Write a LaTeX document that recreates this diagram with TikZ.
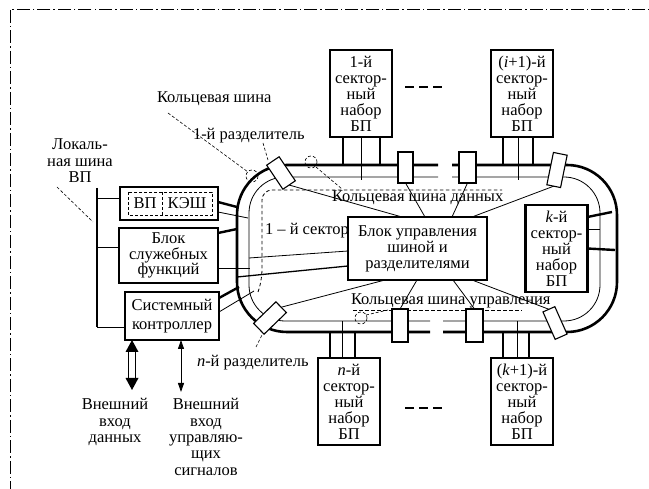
\documentclass[tikz,border=0pt]{standalone}
\usepackage{fontspec}
\setmainfont{Liberation Serif}
\usetikzlibrary{arrows.meta,calc}
\begin{document}
\begin{tikzpicture}[x=1pt,y=-1pt,
 every node/.style={inner sep=0pt, outer sep=0pt, font=\fontsize{16.5}{16}\selectfont},
 sector/.style={draw, line width=2.3pt, minimum width=62pt, minimum height=87pt, align=center},
 lbox/.style={draw, line width=1.8pt, align=center},
 splitter/.style={draw, line width=1.1pt, fill=white, rectangle},
 thickbus/.style={line width=2.6pt},
 thinbus/.style={line width=0.8pt},
 stub/.style={line width=2.4pt},
 leader/.style={line width=0.6pt, dash pattern=on 3pt off 2pt},
 frame/.style={line width=1pt, dash pattern=on 13pt off 3pt on 1.5pt off 3pt},
 sdash/.style={line width=2pt, dash pattern=on 9pt off 5pt},
 ctl/.style={line width=0.8pt},
 busdash/.style={line width=0.8pt, dash pattern=on 3.5pt off 2.5pt},
]
\useasboundingbox (0,0) rectangle (649,489);
\clip (0,0) rectangle (649,489);
\draw[frame] (10,10) rectangle (700,560);

% ring
\draw[thickbus, rounded corners=50pt] (438,165) -- (237,165) -- (237,332) -- (430,332);
\draw[thickbus, rounded corners=50pt] (452,165) -- (617,165) -- (617,332) -- (443,332);
\draw[thinbus, rounded corners=36pt] (438,177) -- (249,177) -- (249,321) -- (430,321);
\draw[thinbus, rounded corners=36pt] (452,177) -- (600,177) -- (600,321) -- (443,321);

% dashed inner buses
\draw[busdash, rounded corners=10pt] (258,292) -- (262,280) -- (262,190) -- (502,190);
\draw[busdash] (353,310) -- (522,310);

% sector boxes
\node[sector] (P1) at (361,93.5) {1-й\\сектор-\\ный\\набор\\БП};
\node[sector] (Pi) at (522,93.5) {(\textit{i}+1)-й\\сектор-\\ный\\набор\\БП};
\node[sector] (Pk) at (556.5,248.5) {\textit{k}-й\\сектор-\\ный\\набор\\БП};
\node[sector] (Pn) at (349,401.5) {\textit{n}-й\\сектор-\\ный\\набор\\БП};
\node[sector] (Pk1) at (522,401.5) {(\textit{k}+1)-й\\сектор-\\ный\\набор\\БП};

\coordinate (dd1a) at (405,87); \coordinate (dd1b) at (442,87);
\draw[sdash] (dd1a) -- (dd1b);
\coordinate (dd2a) at (405,408); \coordinate (dd2b) at (442,408);
\draw[sdash] (dd2a) -- (dd2b);

% stubs of sector boxes
\draw[stub] ([xshift=13pt]P1.south west) -- ++(0,28);
\draw[thinbus] ([xshift=31pt]P1.south west) -- ++(0,43);
\draw[stub] ([xshift=50pt]P1.south west) -- ++(0,28);
\draw[stub] ([xshift=12pt]Pi.south west) -- ++(0,28);
\draw[thinbus] ([xshift=27pt]Pi.south west) -- ++(0,43);
\draw[stub] ([xshift=42pt]Pi.south west) -- ++(0,28);
\draw[stub] ([xshift=12pt]Pn.north west) -- ++(0,-26);
\draw[thinbus] ([xshift=24pt]Pn.north west) -- ++(0,-37);
\draw[stub] ([xshift=37pt]Pn.north west) -- ++(0,-26);
\draw[stub] ([xshift=12pt]Pk1.north west) -- ++(0,-26);
\draw[thinbus] ([xshift=26pt]Pk1.north west) -- ++(0,-37);
\draw[stub] ([xshift=38pt]Pk1.north west) -- ++(0,-26);
\coordinate (k1) at (612,212); \coordinate (k2) at (600,229); \coordinate (k3) at (615,250);
\draw[stub] ([yshift=31.5pt]Pk.east) -- (k1);
\draw[thinbus] ([yshift=19.5pt]Pk.east) -- (k2);
\draw[stub] (Pk.east) -- (k3);

% splitters
\node[splitter, minimum width=29pt, minimum height=15pt, rotate=-56] (S1) at (281,173) {};
\node[splitter, minimum width=33pt, minimum height=14pt, rotate=78.5] (S2) at (557,170) {};
\node[splitter, minimum width=30pt, minimum height=13pt, rotate=-66] (S3) at (555,323) {};
\node[splitter, minimum width=31pt, minimum height=15pt, rotate=44] (S4) at (270,318) {};
\node[splitter, minimum width=15pt, minimum height=31pt] (T1) at (405.5,167.5) {};
\node[splitter, minimum width=17pt, minimum height=31pt] (T2) at (467.5,167.5) {};
\node[splitter, minimum width=16pt, minimum height=33pt] (U1) at (400,325.5) {};
\node[splitter, minimum width=17pt, minimum height=33pt] (U2) at (474.5,325.5) {};

% central block
\node[draw, line width=1.2pt, minimum width=139pt, minimum height=63pt, align=center] (B) at (417.5,248.5) {Блок управления\\шиной и\\разделителями};
\draw[ctl] (S1.east) -- ([xshift=54pt]B.north west);
\draw[ctl] (T1.south) -- ([xshift=77pt]B.north west);
\draw[ctl] (T2.south) -- ([xshift=104pt]B.north west);
\draw[ctl] (S2.west) -- ([xshift=124pt]B.north west);
\draw[ctl] (S4.east) -- ([xshift=37pt]B.south west);
\draw[ctl] (U1.north) -- ([xshift=69pt]B.south west);
\draw[ctl] (U2.north) -- ([xshift=105pt]B.south west);
\draw[ctl] (S3.west) -- ([xshift=124pt]B.south west);
\coordinate (ia) at (249,258);
\draw[ctl] (ia) -- ([yshift=-2.5pt]B.west);
\coordinate (ib) at (237,277);
\draw[line width=1.3pt] (ib) -- ([yshift=-17.5pt]B.west);

% left boxes
\node[lbox, minimum width=98pt, minimum height=33pt] (VK) at (169,203.5) {};
\node[minimum width=34pt, minimum height=23pt] (vp) at (145,203.5) {ВП};
\node[minimum width=50pt, minimum height=23pt] (kesh) at (187,203.5) {КЭШ};
\draw[leader] (vp.north west) rectangle (kesh.south east);
\draw[leader] (vp.north east) -- (vp.south east);
\node[lbox, minimum width=99pt, minimum height=55pt, font=\fontsize{16.5}{15.3}\selectfont] (SF) at (168.5,255.5) {Блок\\служебных\\функций};
\node[lbox, minimum width=94pt, minimum height=48pt, font=\fontsize{16.5}{19}\selectfont] (SC) at (172,316) {Системный\\контроллер};

\coordinate (v1) at (237,207); \coordinate (v2) at (248,218);
\draw[stub] ([yshift=1.5pt]VK.east) -- (v1);
\draw[thinbus] ([yshift=-8.5pt]VK.east) -- (v2);
\coordinate (f1) at (237,229); \coordinate (f2) at (250,268);
\draw[stub] ([yshift=22.5pt]SF.east) -- (f1);
\draw[thinbus] ([yshift=-12.5pt]SF.east) -- (f2);
\coordinate (s1) at (239,287); \coordinate (s2) at (254,291);
\draw[stub] ([yshift=18pt]SC.east) -- (s1);
\draw[thinbus] ([yshift=4pt]SC.east) -- (s2);

% local bus
\coordinate (lb1) at (97,188); \coordinate (lb2) at (97,327);
\draw[line width=2pt] (lb1) -- (lb2);
\coordinate (j1) at (97,198); \coordinate (j2) at (97,247); \coordinate (j3) at (97,327);
\draw[ctl] (j1) -- (j1 -| VK.west);
\draw[ctl] (j2) -- (j2 -| SF.west);
\draw[ctl] (j3) -- (j3 -| SC.west);

% external arrows
\coordinate (dtop) at ([xshift=-40pt]SC.south);
\coordinate (dbot) at (132,390);
\draw[line width=1.1pt, double distance=6pt] ($(dtop)+(0,11)$) -- ($(dbot)+(0,-11)$);
\fill (dtop) -- ++(-6.5,12) -- ++(13,0) -- cycle;
\fill (dbot) -- ++(-6.5,-12) -- ++(13,0) -- cycle;
\coordinate (cbot) at (181,392);
\draw[line width=0.9pt, {Triangle[length=9pt,width=6pt]}-{Triangle[length=9pt,width=6pt]}] ([xshift=9pt]SC.south) -- (cbot);

% labels
\node[align=center, font=\fontsize{16.5}{16.5}\selectfont] (lin) at (115,422) {Внешний\\вход\\данных};
\node[align=center, font=\fontsize{16.5}{16.3}\selectfont] (lctl) at (206,437) {Внешний\\вход\\управляю-\\щих\\сигналов};
\node[align=center, font=\fontsize{16.5}{16.5}\selectfont] (lloc) at (80,161) {Локаль-\\ная шина\\ВП};
\node[anchor=base west] (lring) at (157,103) {Кольцевая шина};
\node[anchor=base west] (lsp1) at (193,140) {1-й разделитель};
\node[anchor=base west] (lspn) at (197,367) {\textit{n}-й разделитель};
\node[anchor=base west] (lsec) at (265,235) {1 – й сектор};
\node[anchor=base west] (ldata) at (332,202) {Кольцевая шина данных};
\node[anchor=base west] (lctrl) at (351,305) {Кольцевая шина управления};

% leaders
\coordinate (a1) at (57,187); \coordinate (a2) at (93,222);
\draw[leader] (a1) -- (a2);
\coordinate (c1) at (252,176);
\draw[leader] (c1) circle[radius=6];
\coordinate (r1) at (168,113); \coordinate (r2) at (248,172);
\draw[leader] (r1) -- (r2);
\coordinate (p1) at (263,143); \coordinate (p2) at (268,160);
\draw[leader] (p1) -- (p2);
\coordinate (c2) at (311,162);
\draw[leader] (c2) circle[radius=6];
\coordinate (d1) at (316,167); \coordinate (d2) at (342,189);
\draw[leader] (d1) -- (d2);
\coordinate (c3) at (361,318);
\draw[leader] (c3) circle[radius=6];
\coordinate (e1) at (366,315); \coordinate (e2) at (388,310);
\draw[leader] (e1) -- (e2);
\coordinate (n1) at (256,347); \coordinate (n2) at (262,335);
\draw[leader] (n1) -- (n2);
\end{tikzpicture}
\end{document}
